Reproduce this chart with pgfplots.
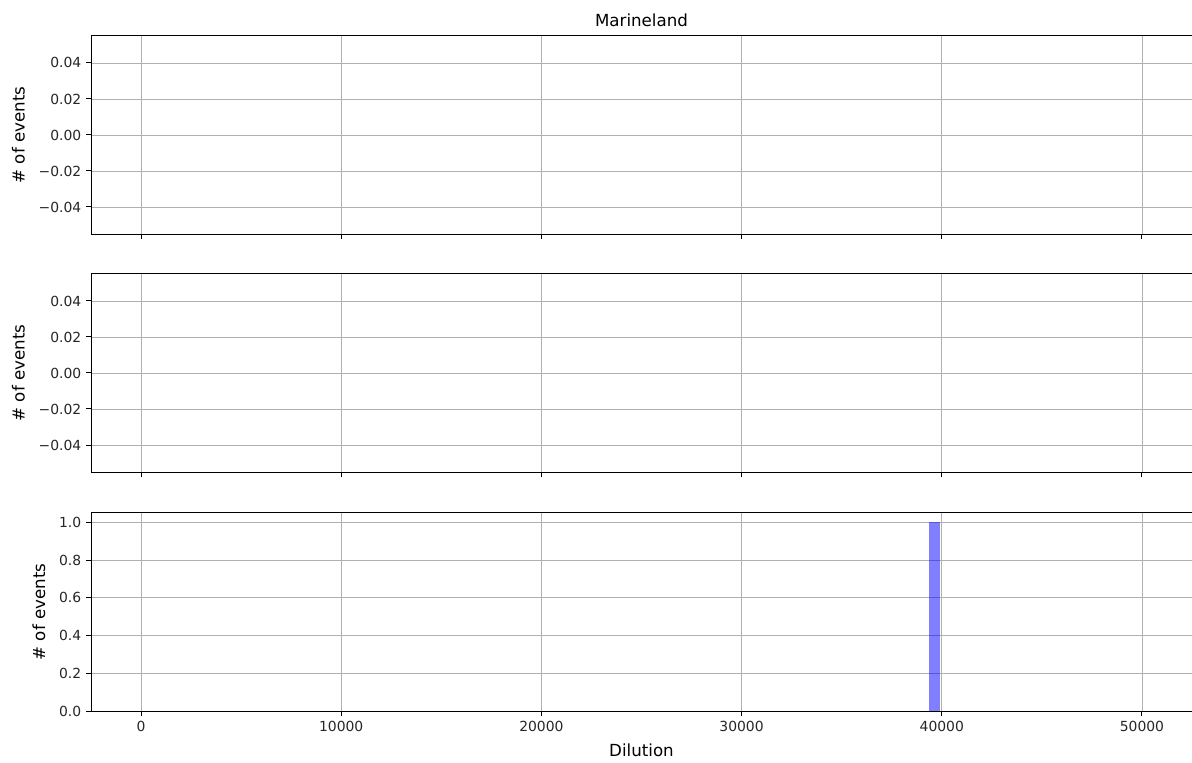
\documentclass[border=0pt]{standalone}
\usepackage{fontspec}
\setmainfont{DejaVu Sans}
\usepackage{pgfplots}
\pgfplotsset{compat=1.18}

\definecolor{gridgray}{RGB}{176,176,176}

\pgfplotsset{
  panel/.style={
    scale only axis,
    width=792.7pt, height=142.6pt,
    anchor=south west,
    xmin=-2500, xmax=52500,
    xtick={0,10000,20000,30000,40000,50000},
    scaled x ticks=false, scaled y ticks=false,
    grid=major,
    major grid style={draw=gridgray, line width=0.6pt},
    axis line style={line width=0.7pt},
    tick align=outside,
    major tick length=3.5pt,
    tick style={black, line width=0.7pt},
    xtick pos=bottom, ytick pos=left,
    tick label style={font=\fontsize{10}{12}\selectfont, text=black!85},
    label style={font=\fontsize{12}{14}\selectfont},
    ylabel={\# of events},
    ylabel shift=3pt,
  },
  emptypanel/.style={
    panel,
    ymin=-0.055, ymax=0.055,
    ytick={-0.04,-0.02,0,0.02,0.04},
    yticklabels={−0.04,−0.02,0.00,0.02,0.04},
    xticklabels={},
  },
}

\begin{document}
\begin{tikzpicture}
\path[use as bounding box] (0,0) rectangle (858.24pt,548.64pt);

% top panel
\begin{axis}[emptypanel, at={(65.52pt,380.16pt)},
  title={Marineland},
  title style={font=\fontsize{12}{14}\selectfont, yshift=-3pt}]
\addplot[draw=none, forget plot] coordinates {(0,0)};
\end{axis}

% middle panel
\begin{axis}[emptypanel, at={(65.52pt,208.8pt)}]
\addplot[draw=none, forget plot] coordinates {(0,0)};
\end{axis}

% bottom panel with the single event
\begin{axis}[panel, at={(65.52pt,36.72pt)},
  ymin=0, ymax=1.05,
  ytick={0,0.2,0.4,0.6,0.8,1.0},
  yticklabels={0.0,0.2,0.4,0.6,0.8,1.0},
  xticklabels={0,10000,20000,30000,40000,50000},
  xlabel={Dilution},
  xlabel style={yshift=-2.5pt}]
\addplot[fill=blue, fill opacity=0.5, draw=none]
  coordinates {(39380,0) (39380,1) (39930,1) (39930,0)} -- cycle;
\end{axis}
\end{tikzpicture}
\end{document}
